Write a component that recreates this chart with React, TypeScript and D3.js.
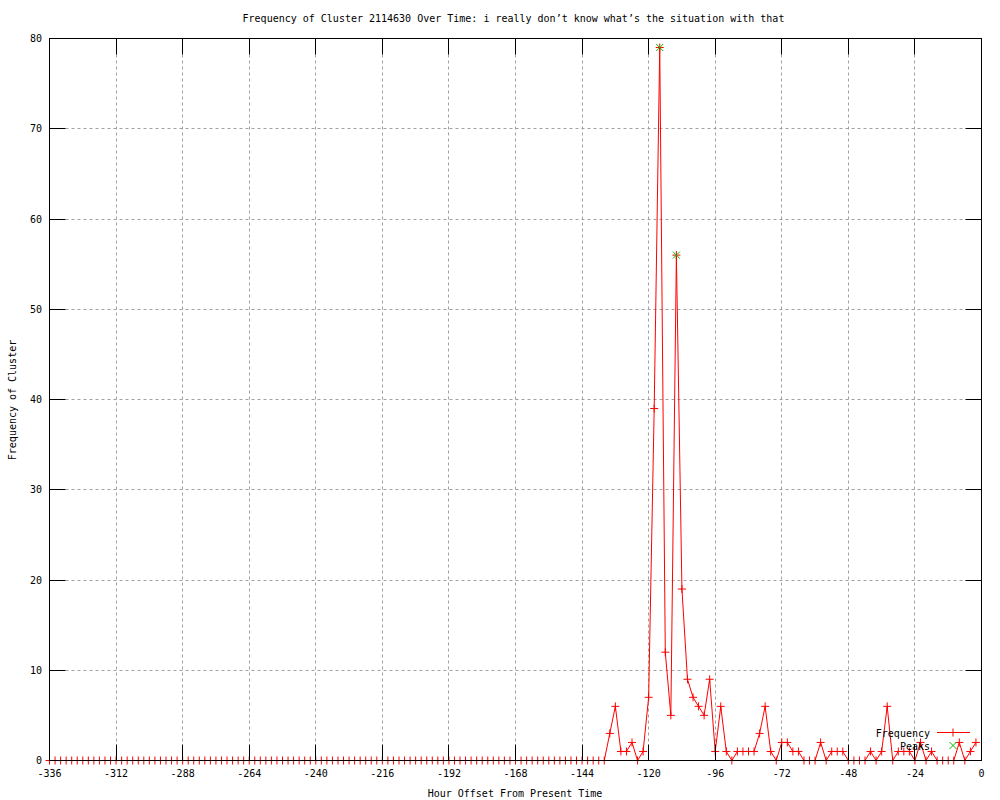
import * as d3 from "d3";

// hours before present, one sample every 2 hours
const hours: number[] = d3.range(-336, 0, 2);

// frequency per sample, -336 .. -2
const frequency: number[] = [
  0, 0, 0, 0, 0, 0, 0, 0, 0, 0, 0, 0, 0, 0, 0, 0, 0, 0, 0, 0,
  0, 0, 0, 0, 0, 0, 0, 0, 0, 0, 0, 0, 0, 0, 0, 0, 0, 0, 0, 0,
  0, 0, 0, 0, 0, 0, 0, 0, 0, 0, 0, 0, 0, 0, 0, 0, 0, 0, 0, 0,
  0, 0, 0, 0, 0, 0, 0, 0, 0, 0, 0, 0, 0, 0, 0, 0, 0, 0, 0, 0,
  0, 0, 0, 0, 0, 0, 0, 0, 0, 0, 0, 0, 0, 0, 0, 0, 0, 0, 0, 0,
  0,
  // -134 onwards
  3, 6, 1, 1, 2, 0, 1, 7, 39, 79, 12, 5, 56, 19, 9, 7, 6, 5, 9, 1,
  6, 1, 0, 1, 1, 1, 1, 3, 6, 1, 0, 2, 2, 1, 1, 0, 0, 0, 2, 0,
  1, 1, 1, 0, 0, 0, 0, 1, 0, 1, 6, 0, 1, 1, 1, 0, 2, 0, 1, 0,
  0, 0, 0, 2, 0, 1, 2,
];

const peakHours: number[] = [-116, -110];
const peakValues: number[] = [79, 56];

const xTicks: number[] = d3.range(-336, 1, 24);
const yTicks: number[] = d3.range(0, 81, 10);

const title = "Frequency of Cluster 2114630 Over Time: i really don\u2019t know what\u2019s the situation with that";

const font = "'DejaVu Sans Mono', monospace";

export default function App() {
  const left = 49.5;
  const right = 981.5;
  const top = 38.5;
  const bottom = 760.5;
  const tick = 16;

  const x = d3.scaleLinear().domain([-336, 0]).range([left, right]);
  const y = d3.scaleLinear().domain([0, 80]).range([bottom, top]);

  const pts = hours.map((h, i) => [x(h), y(frequency[i])] as [number, number]);
  const line = d3.line()(pts) || "";

  const plus = (cx: number, cy: number, r: number, key: string, color: string) => (
    <path key={key} d={`M${cx - r},${cy}H${cx + r}M${cx},${cy - r}V${cy + r}`} stroke={color} strokeWidth={1} fill="none" />
  );
  const cross = (cx: number, cy: number, r: number, key: string, color: string) => (
    <path key={key} d={`M${cx - r},${cy - r}L${cx + r},${cy + r}M${cx - r},${cy + r}L${cx + r},${cy - r}`} stroke={color} strokeWidth={1} fill="none" />
  );

  const snap = (v: number) => Math.round(v - 0.5) + 0.5;

  return (
    <svg width={1000} height={800} style={{ position: "absolute", left: 0, top: 0, background: "#fff" }} fontFamily={font} fontSize={10}>
      <rect width={1000} height={800} fill="#fff" />

      {/* grid */}
      <g stroke="#a0a0a0" strokeWidth={1} strokeDasharray="3,3">
        {xTicks.slice(1, -1).map((t) => (
          <line key={"gx" + t} x1={snap(x(t))} x2={snap(x(t))} y1={top + tick} y2={bottom - tick} />
        ))}
        {yTicks.slice(1, -1).map((t) => (
          <line key={"gy" + t} x1={left + tick} x2={right - tick} y1={snap(y(t))} y2={snap(y(t))} />
        ))}
      </g>

      {/* data */}
      <path d={line} fill="none" stroke="#ff0000" strokeWidth={1} />
      {pts.map((p, i) => plus(p[0], p[1], 4, "p" + i, "#ff0000"))}
      {peakHours.map((h, i) => cross(x(h), y(peakValues[i]), 3.5, "k" + i, "#00c000"))}

      {/* border and ticks */}
      <rect x={left} y={top} width={right - left} height={bottom - top} fill="none" stroke="#000" strokeWidth={1} />
      <g stroke="#000" strokeWidth={1}>
        {xTicks.map((t) => (
          <g key={"tx" + t}>
            <line x1={snap(x(t))} x2={snap(x(t))} y1={bottom} y2={bottom - tick} />
            <line x1={snap(x(t))} x2={snap(x(t))} y1={top} y2={top + tick} />
          </g>
        ))}
        {yTicks.map((t) => (
          <g key={"ty" + t}>
            <line x1={left} x2={left + tick} y1={snap(y(t))} y2={snap(y(t))} />
            <line x1={right} x2={right - tick} y1={snap(y(t))} y2={snap(y(t))} />
          </g>
        ))}
      </g>

      {/* tick labels */}
      <g fill="#000">
        {xTicks.map((t) => (
          <text key={"lx" + t} x={x(t)} y={777} textAnchor="middle">{t}</text>
        ))}
        {yTicks.map((t) => (
          <text key={"ly" + t} x={42} y={y(t) + 3.5} textAnchor="end">{t}</text>
        ))}
      </g>

      {/* titles */}
      <text x={513.5} y={22} textAnchor="middle">{title}</text>
      <text x={515} y={797} textAnchor="middle">Hour Offset From Present Time</text>
      <text transform="translate(16,400) rotate(-90)" textAnchor="middle">Frequency of Cluster</text>

      {/* legend */}
      <text x={930} y={736.5} textAnchor="end">Frequency</text>
      <line x1={937} x2={970} y1={732.5} y2={732.5} stroke="#ff0000" />
      {plus(953, 732.5, 4, "lp", "#ff0000")}
      <text x={930} y={749.5} textAnchor="end">Peaks</text>
      {cross(953, 745.5, 3.5, "lk", "#00c000")}
    </svg>
  );
}
